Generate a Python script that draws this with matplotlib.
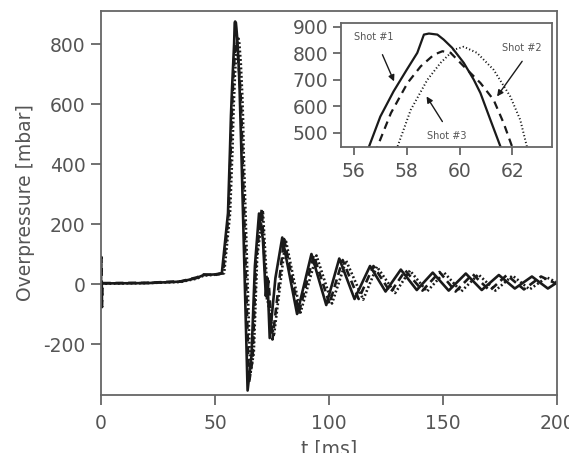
import matplotlib
matplotlib.use("Agg")
import matplotlib.pyplot as plt

plt.rcParams['axes.unicode_minus'] = False

# overpressure traces, t in ms, p in mbar
shot1_t = [0, 1, 20, 35, 42, 45, 50, 53, 55.7, 56.57, 57.0, 57.5, 58.0, 58.4, 58.65, 58.84, 59.16,
           59.4, 59.72, 60.16, 60.54, 60.79, 61.17, 61.55, 64.3, 66.0, 67.5, 69.3, 71.0, 72.3, 73.0,
           74.0, 76.5, 79.5, 86.0, 92.3, 98.8, 104.5, 111.2, 118.0, 124.8, 131.5, 138.5, 145.5, 152.5,
           160.0, 167.0, 174.5, 181.5, 189.0, 196.0, 200.0]
shot1_p = [2, 2, 3, 8, 20, 30, 32, 36, 236, 447, 561, 656, 738, 802, 871, 875, 871,
           852, 821, 764, 700, 650, 548, 447, -355, -240, 60, 235, 150, -40, 20,
           -180, 20, 155, -100, 100, -70, 85, -50, 60, -25, 48, -20, 38, -22,
           35, -20, 30, -15, 25, -15, 5]

shot2_t = [0, 0.2, 0.45, 0.7, 1, 20, 35, 42, 45, 50, 53.5, 56.0, 56.89, 57.4, 58.03, 58.53, 59.03,
           59.35, 59.66, 60.16, 60.79, 61.29, 61.67, 61.99, 64.9, 66.5, 68.0, 70.5, 72.7, 73.5,
           75.2, 80.3, 86.8, 93.3, 100.2, 106.0, 113.0, 119.5, 127.0, 133.5, 141.0, 148.5, 155.5,
           163.0, 170.5, 178.0, 185.5, 193.0, 200.0]
shot2_p = [0, 90, -77, 3, 3, 4, 9, 22, 32, 30, 36, 236, 447, 574, 688, 751, 795,
           808, 802, 751, 688, 624, 536, 447, -330, -250, 80, 250, -55, 10,
           -185, 150, -95, 95, -65, 80, -50, 60, -28, 45, -22, 40, -25,
           33, -22, 30, -18, 25, 0]

shot3_t = [0, 1, 20, 35, 42, 45, 50, 54.0, 56.6, 57.65, 58.15, 58.78, 59.28, 59.79, 60.16, 60.66,
           61.29, 61.92, 62.30, 62.55, 65.5, 67.0, 68.5, 71.0, 73.2, 75.8, 81.0, 87.5, 94.5,
           101.3, 107.5, 115.0, 121.0, 129.0, 135.5, 143.0, 150.5, 158.0, 165.5, 173.0, 180.5,
           188.0, 195.5, 200.0]
shot3_p = [1, 1, 3, 7, 18, 28, 31, 36, 236, 447, 586, 700, 764, 814, 825, 802,
           738, 637, 548, 447, -300, -230, 90, 245, -60, -175, 148, -95, 95,
           -65, 78, -52, 58, -30, 45, -25, 38, -25, 32, -22, 28,
           -18, 22, 5]

main_xticks = [0, 50, 100, 150, 200]
main_yticks = [-200, 0, 200, 400, 600, 800]
inset_xticks = [56, 58, 60, 62]
inset_yticks = [500, 600, 700, 800, 900]

ink = '#1a1a1a'
grey = '#666666'
txt = '#555555'

fig = plt.figure(figsize=(5.69, 4.53), dpi=100)
ax = fig.add_axes([0.1775, 0.128, 0.8014, 0.8477])

styles = [dict(ls='-'), dict(ls=(0, (3.0, 1.8))), dict(ls=(0, (0.7, 0.9)))]
shots = [(shot1_t, shot1_p), (shot2_t, shot2_p), (shot3_t, shot3_p)]
for (t, p), st in zip(shots, styles):
    ax.plot(t, p, color=ink, lw=1.9, **st)

ax.set_xlim(0, 200)
ax.set_ylim(-370, 910)
ax.set_xticks(main_xticks)
ax.set_yticks(main_yticks)
ax.set_xlabel('t [ms]', fontsize=13.5, color=txt, labelpad=4)
ax.set_ylabel('Overpressure [mbar]', fontsize=13.5, color=txt, labelpad=6)
for s in ax.spines.values():
    s.set_color(grey)
    s.set_linewidth(1.3)
ax.tick_params(direction='out', length=7, width=1.3, color=grey, labelcolor=txt,
               labelsize=13.5, pad=4)
ax.tick_params(axis='x', pad=7)

# zoom on the peak
ins = fig.add_axes([0.5988, 0.6762, 0.3713, 0.2737])
ins_styles = [dict(ls='-', lw=1.6), dict(ls=(0, (3.5, 2.5)), lw=1.6), dict(ls=(0, (0.6, 1.2)), lw=1.4)]
for (t, p), st in zip(shots, ins_styles):
    ins.plot(t, p, color=ink, **st)
ins.set_xlim(55.5, 63.5)
ins.set_ylim(447, 916)
ins.set_xticks(inset_xticks)
ins.set_yticks(inset_yticks)
for s in ins.spines.values():
    s.set_color(grey)
    s.set_linewidth(1.3)
ins.tick_params(direction='out', length=6, width=1.3, color=grey, labelcolor=txt,
                labelsize=13.5, pad=3)
ins.tick_params(axis='x', pad=5)

arrow = dict(arrowstyle='-|>', color=ink, lw=1.0, mutation_scale=9, shrinkA=0, shrinkB=0)
ins.text(56.75, 860, 'Shot #1', fontsize=7, color=txt, ha='center', va='center')
ins.annotate('', xy=(57.52, 694), xytext=(57.08, 795), arrowprops=arrow)
ins.text(62.37, 821, 'Shot #2', fontsize=7, color=txt, ha='center', va='center')
ins.annotate('', xy=(61.42, 637), xytext=(62.37, 770), arrowprops=arrow)
ins.text(59.51, 487, 'Shot #3', fontsize=7, color=txt, ha='center', va='center')
ins.annotate('', xy=(58.75, 637), xytext=(59.35, 542), arrowprops=arrow)

fig.savefig('out.png', dpi=100)
